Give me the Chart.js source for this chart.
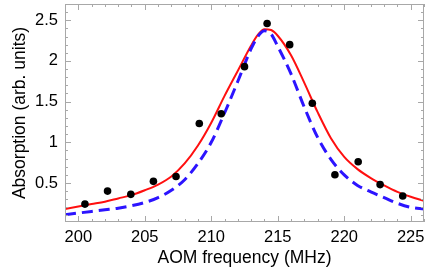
<!DOCTYPE html>
<html>
<head>
<meta charset="utf-8">
<script src="https://cdn.jsdelivr.net/npm/chart.js@4/dist/chart.umd.min.js"></script>
<style>
    html, body
    {
        margin: 0;
        padding: 0;
        background: #fff;
    }

    #wrap
    {
        width: 436px;
        height: 270px;
    }
</style>
</head>
<body>
<div id="wrap"><canvas id="absChart"></canvas></div>
<script>
// measured points
const pointFreq = [200.5, 202.2, 203.95, 205.65, 207.35, 209.1, 210.75, 212.5, 214.2, 215.9, 217.6, 219.3, 221.05, 222.7, 224.4];
const pointAbs = [0.24, 0.40, 0.36, 0.52, 0.58, 1.23, 1.35, 1.93, 2.46, 2.20, 1.48, 0.60, 0.76, 0.48, 0.34];

// red solid fit
const redFreq = [199, 200, 201, 202, 203, 204, 205, 206, 207, 208, 209, 210, 211, 212, 213, 213.5, 214, 214.5, 215, 216, 217, 218, 219, 220, 221, 222, 223, 224, 225, 226];
const redAbs = [0.18, 0.21, 0.24, 0.27, 0.31, 0.35, 0.41, 0.48, 0.58, 0.74, 0.96, 1.24, 1.57, 1.88, 2.19, 2.32, 2.39, 2.38, 2.31, 2.07, 1.73, 1.37, 1.05, 0.82, 0.67, 0.56, 0.47, 0.39, 0.33, 0.28];

// blue dashed fit
const blueFreq = [199, 200, 201, 202, 203, 204, 205, 206, 207, 208, 209, 210, 211, 212, 213, 213.5, 214, 214.5, 215, 216, 217, 218, 219, 220, 221, 222, 223, 224, 225, 226];
const blueAbs = [0.11, 0.13, 0.15, 0.17, 0.19, 0.22, 0.26, 0.32, 0.41, 0.54, 0.74, 1.00, 1.36, 1.75, 2.15, 2.30, 2.37, 2.33, 2.18, 1.84, 1.43, 1.06, 0.79, 0.60, 0.47, 0.39, 0.32, 0.25, 0.20, 0.18];

const xTicks = [200, 205, 210, 215, 220, 225];
const yTicks = [0.5, 1, 1.5, 2, 2.5];

const X_MIN = 199;
const X_MAX = 226;
const Y_MIN = 0.02;
const Y_MAX = 2.7;

const FONT = "'Liberation Sans', Arial, sans-serif";
const FRAME_COLOR = "#a8a8a8";

function toXY(xs, ys)
{
    return xs.map((x, i) =>
    {
        return { x: x, y: ys[i] };
    });
}

function minorValues(min, max, step)
{
    const out = [];
    const start = Math.ceil(min / step - 1e-9);

    for (let k = start; k * step <= max + 1e-9; k++)
    {
        out.push(Math.round(k * step * 1000) / 1000);
    }

    return out;
}

// frame with inward ticks on all four sides
const framePlugin =
{
    id: "frame",
    afterDatasetsDraw(chart)
    {
        const ctx = chart.ctx;
        const area = chart.chartArea;
        const xs = chart.scales.x;
        const ys = chart.scales.y;

        ctx.save();
        ctx.strokeStyle = FRAME_COLOR;
        ctx.lineWidth = 1;

        ctx.strokeRect(area.left + 0.5, area.top + 0.5, area.right - area.left - 1, area.bottom - area.top - 1);

        ctx.beginPath();

        minorValues(X_MIN, X_MAX, 1).forEach((v) =>
        {
            const px = Math.round(xs.getPixelForValue(v)) + 0.5;
            const len = xTicks.includes(v) ? 6 : 3;
            ctx.moveTo(px, area.bottom);
            ctx.lineTo(px, area.bottom - len);
            ctx.moveTo(px, area.top);
            ctx.lineTo(px, area.top + len);
        });

        minorValues(Y_MIN, Y_MAX, 0.1).forEach((v) =>
        {
            const py = Math.round(ys.getPixelForValue(v)) + 0.5;
            const major = yTicks.some((t) => Math.abs(t - v) < 1e-6);
            const len = major ? 6 : 3;
            ctx.moveTo(area.left, py);
            ctx.lineTo(area.left + len, py);
            ctx.moveTo(area.right, py);
            ctx.lineTo(area.right - len, py);
        });

        ctx.stroke();
        ctx.restore();
    }
};

window.addEventListener("load", () =>
{
    const canvas = document.getElementById("absChart");

    new Chart(canvas.getContext("2d"),
    {
        type: "scatter",
        data:
        {
            datasets:
            [
                {
                    label: "data",
                    data: toXY(pointFreq, pointAbs),
                    pointRadius: 3.8,
                    pointBackgroundColor: "#000",
                    pointBorderWidth: 0,
                    showLine: false,
                    order: 0
                },
                {
                    label: "fit",
                    data: toXY(redFreq, redAbs),
                    showLine: true,
                    borderColor: "#ff0f0f",
                    borderWidth: 2,
                    pointRadius: 0,
                    cubicInterpolationMode: "monotone",
                    order: 2
                },
                {
                    label: "model",
                    data: toXY(blueFreq, blueAbs),
                    showLine: true,
                    borderColor: "#2c14ff",
                    borderWidth: 3,
                    borderDash: [11, 6],
                    pointRadius: 0,
                    cubicInterpolationMode: "monotone",
                    order: 1
                }
            ]
        },
        options:
        {
            animation: false,
            responsive: true,
            maintainAspectRatio: false,
            layout:
            {
                padding:
                {
                    top: 1,
                    right: 12,
                    left: 0,
                    bottom: 0
                }
            },
            plugins:
            {
                legend: { display: false },
                tooltip: { enabled: false }
            },
            scales:
            {
                x:
                {
                    type: "linear",
                    min: X_MIN,
                    max: X_MAX,
                    afterBuildTicks(scale)
                    {
                        scale.ticks = xTicks.map((v) => ({ value: v }));
                    },
                    afterFit(scale)
                    {
                        scale.height = 48;
                        scale.paddingLeft = 0;
                        scale.paddingRight = 0;
                    },
                    grid: { display: false, drawTicks: false },
                    border: { display: false },
                    ticks:
                    {
                        color: "#000",
                        padding: 6,
                        maxRotation: 0,
                        font: { family: FONT, size: 16.5 },
                        callback(value)
                        {
                            return String(value);
                        }
                    },
                    title:
                    {
                        display: true,
                        text: "AOM frequency (MHz)",
                        color: "#000",
                        padding: { top: 0, bottom: 1 },
                        font: { family: FONT, size: 17.5 }
                    }
                },
                y:
                {
                    type: "linear",
                    min: Y_MIN,
                    max: Y_MAX,
                    afterBuildTicks(scale)
                    {
                        scale.ticks = yTicks.map((v) => ({ value: v }));
                    },
                    afterFit(scale)
                    {
                        scale.width = 65;
                        scale.paddingTop = 0;
                        scale.paddingBottom = 0;
                    },
                    grid: { display: false, drawTicks: false },
                    border: { display: false },
                    ticks:
                    {
                        color: "#000",
                        padding: 7,
                        font: { family: FONT, size: 16.5 },
                        callback(value)
                        {
                            return String(value);
                        }
                    },
                    title:
                    {
                        display: true,
                        text: "Absorption (arb. units)",
                        color: "#000",
                        padding: { top: 10, bottom: 0 },
                        font: { family: FONT, size: 17.5 }
                    }
                }
            }
        },
        plugins: [framePlugin]
    });
});
</script>
</body>
</html>
